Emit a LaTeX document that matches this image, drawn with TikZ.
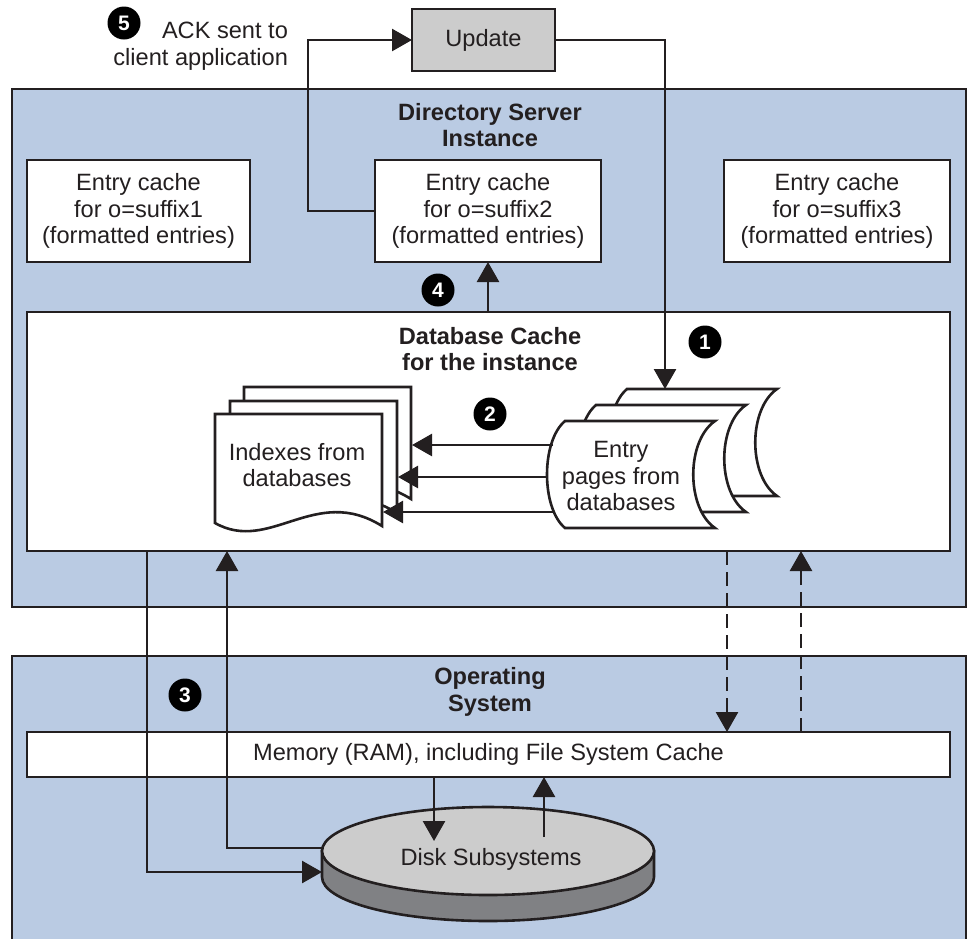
\documentclass[tikz,border=0pt]{standalone}
\usepackage{fontspec}
\setmainfont{Liberation Sans}
\usetikzlibrary{arrows.meta,shapes.geometric,calc}
\definecolor{bluebg}{HTML}{BACBE3}
\definecolor{linec}{HTML}{231F20}
\definecolor{graytop}{HTML}{CCCCCC}
\definecolor{grayside}{HTML}{808184}
\newcommand{\fsz}{\fontsize{11.8}{13.25}\selectfont}
\begin{document}
\begin{tikzpicture}[x=0.5pt,y=-0.5pt,
  every node/.style={font=\fsz, text=linec},
  panel/.style={fill=bluebg, draw=linec, line width=1.3pt, inner sep=0pt, outer sep=0pt},
  wbox/.style={fill=white, draw=linec, line width=1.3pt, inner sep=0pt, outer sep=0pt, align=center},
  arr/.style={draw=linec, line width=1.3pt, -{Triangle[length=10pt,width=11pt]}},
  ln/.style={draw=linec, line width=1.3pt},
  dsh/.style={arr, dash pattern=on 7pt off 3.5pt},
  num/.style={circle, fill=black, text=white, inner sep=0pt, minimum size=16.5pt, font=\fontsize{10.5}{12}\selectfont\bfseries},
  ttl/.style={font=\fsz\bfseries, align=center},
  shp/.style={fill=white, draw=linec, line width=1.3pt, line join=miter}
]
\path[use as bounding box] (0,0) rectangle (968,938);

% panels
\node[panel, minimum width=477pt, minimum height=259pt] (ds) at (489,348) {};
\node[fill=bluebg, inner sep=0pt, outer sep=0pt, minimum width=477pt, minimum height=145pt] (os) at (489,801) {};
\draw[ln] (os.south west) -- (os.north west) -- (os.north east) -- (os.south east);

\node[ttl] (dstitle) at (490,125) {Directory Server\\Instance};
\node[ttl] (ostitle) at (490,692) {Operating\\System};

% entry caches
\node[wbox, minimum width=111.5pt, minimum height=51pt] (ec1) at (138.5,211) {Entry cache\\for o=suffix1\\(formatted entries)};
\node[wbox, minimum width=113pt, minimum height=51pt] (ec2) at (488,211) {Entry cache\\for o=suffix2\\(formatted entries)};
\node[wbox, minimum width=113pt, minimum height=51pt] (ec3) at (837,211) {Entry cache\\for o=suffix3\\(formatted entries)};

% database cache
\node[wbox, minimum width=461.5pt, minimum height=119.5pt] (dbc) at (488.5,431.5) {};
\node[ttl] (dbtitle) at (490,349) {Database Cache\\for the instance};

% memory
\node[wbox, minimum width=461.5pt, minimum height=22.5pt] (mem) at (488.5,754.5) {Memory (RAM), including File System Cache};

% update
\node[wbox, fill=graytop, minimum width=71.5pt, minimum height=31pt] (upd) at (483.5,40) {Update};
\node[align=right, anchor=east] (ack) at (295,46) {ACK sent to\\client application};

% document stack
\foreach \dx/\dy in {29/-27,15/-13,0/0}
  \draw[shp, shift={(215+\dx,414+\dy)}] (0,0) -- (0,109) .. controls (55,140) and (100,70) .. (167,112) -- (167,0) -- cycle;
\node[align=center] (idx) at (297,465) {Indexes from\\databases};

% entry pages stack
\foreach \dx/\dy in {62/-32,31/-16,0/0}
  \draw[shp, shift={(565+\dx,421+\dy)}] (0,0) -- (150,0) .. controls (121,20) and (121,87) .. (150,107) -- (0,107) .. controls (-24,87) and (-24,20) .. (0,0) -- cycle;
\node[align=center] (pages) at (621,476) {Entry\\pages from\\databases};

% disk
\coordinate (dc) at (488,851);
\filldraw[fill=grayside, draw=linec, line width=1.3pt] (322,851) -- (322,877) .. controls (322,901.3) and (396.3,921) .. (488,921) .. controls (579.7,921) and (654,901.3) .. (654,877) -- (654,851) -- cycle;
\node[ellipse, fill=graytop, draw=linec, line width=1.3pt, minimum width=166pt, minimum height=44pt, inner sep=0pt, outer sep=0pt] (disk) at (dc) {};
\node (disklbl) at ($(disk.center)+(3,8)$) {Disk Subsystems};

% numbers
\node[num] (n5) at (124,23) {5};
\node[num] (n1) at (705,342) {1};
\node[num] (n2) at (490,414) {2};
\node[num] (n3) at (185,695) {3};
\node[num] (n4) at (438,290) {4};

% coordinates
\coordinate (pgtop) at (665,389);
\coordinate (p1) at (553,445);
\coordinate (p2) at (547,477);
\coordinate (p3) at (553,512);
\coordinate (d1) at (412,445);
\coordinate (d2) at (398,477);
\coordinate (d3) at (383,512);
\coordinate (a1) at ($(dbc.south west)+(120,0)$);
\coordinate (b1) at ($(dbc.south west)+(200,0)$);
\coordinate (diskA) at ($(disk.west)+(0,21)$);
\coordinate (diskB) at ($(disk.west)+(1,-3)$);
\coordinate (dsA) at ($(dbc.south west)+(700,0)$);
\coordinate (dmA) at ($(mem.north west)+(700,0)$);
\coordinate (dsB) at ($(dbc.south west)+(774,0)$);
\coordinate (dmB) at ($(mem.north west)+(774,0)$);
\coordinate (mdA) at ($(mem.south west)+(407,0)$);
\coordinate (dkA) at ($(disk.center)+(-54,-10)$);
\coordinate (mdB) at ($(mem.south west)+(517,0)$);
\coordinate (dkB) at ($(disk.center)+(56,-14)$);

% connectors
\draw[arr] (ec2.west) -- ++(-67,0) |- (upd.west);
\draw[arr] (upd.east) -| (pgtop);
\draw[arr] (dbc.north -| ec2.south) -- (ec2.south);
\draw[arr] (p1) -- (d1);
\draw[arr] (p2) -- (d2);
\draw[arr] (p3) -- (d3);
\draw[arr] (a1) |- (diskA);
\draw[arr] (diskB) -| (b1);
\draw[dsh] (dsA) -- (dmA);
\draw[dsh] (dmB) -- (dsB);
\draw[arr] (mdA) -- (dkA);
\draw[arr] (dkB) -- (mdB);
\end{tikzpicture}
\end{document}
